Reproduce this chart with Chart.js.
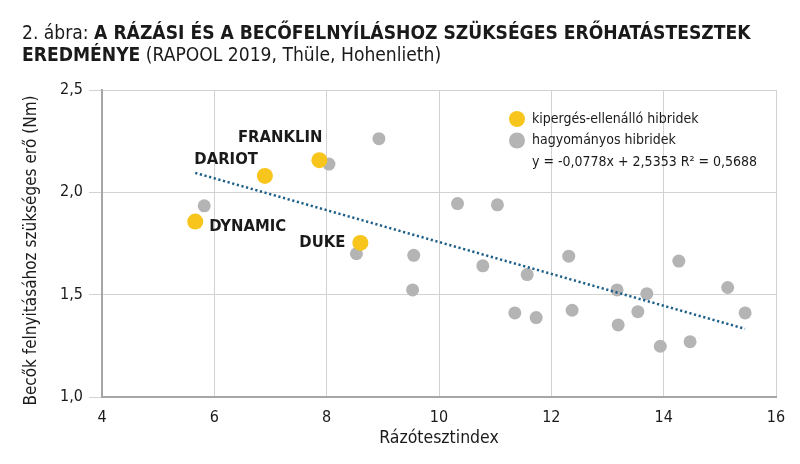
<!DOCTYPE html>
<html><head><meta charset="utf-8">
<script src="https://cdn.jsdelivr.net/npm/chart.js@4/dist/chart.umd.min.js"></script>
<style>
html,body{margin:0;padding:0;background:#fff;}
#wrap{position:relative;width:800px;height:464px;overflow:hidden;}
#title{position:absolute;left:22px;top:22px;font-family:'DejaVu Sans Condensed','DejaVu Sans',sans-serif;font-size:19.1px;line-height:22px;color:#1a1a1a;white-space:nowrap;}
#title b{font-weight:bold;}
canvas{position:absolute;left:0;top:0;}
</style></head><body>
<div id="wrap"><canvas id="c" width="800" height="464"></canvas>
<div id="title">2. ábra: <b>A RÁZÁSI ÉS A BECŐFELNYÍLÁSHOZ SZÜKSÉGES ERŐHATÁSTESZTEK</b><br><b>EREDMÉNYE</b> (RAPOOL 2019, Thüle, Hohenlieth)</div>
</div>
<script>
// ---- data ----
const resistantNames = ['DYNAMIC', 'DARIOT', 'FRANKLIN', 'DUKE'];
const resistantX = [5.66, 6.90, 7.87, 8.60];
const resistantY = [1.857, 2.08, 2.157, 1.753];

const conventionalX = [5.82, 8.04, 8.93, 8.53, 9.55, 9.53, 10.33, 11.04, 10.78, 11.57, 11.35, 11.73,
                       12.31, 12.37, 13.17, 13.19, 13.70, 13.54, 13.94, 14.27, 14.47, 15.14, 15.45];
const conventionalY = [1.934, 2.138, 2.262, 1.70, 1.692, 1.523, 1.945, 1.939, 1.641, 1.598, 1.411, 1.388,
                       1.688, 1.424, 1.523, 1.352, 1.505, 1.417, 1.248, 1.664, 1.27, 1.535, 1.411];

const trendX = [5.66, 15.45];
const trendY = [2.095, 1.333];

const xTicks = [4, 6, 8, 10, 12, 14, 16];
const yTicks = [1.0, 1.5, 2.0, 2.5];

const legendLabels = ['kipergés-ellenálló hibridek', 'hagyományos hibridek', 'y = -0,0778x + 2,5353 R² = 0,5688'];
const xTitle = 'Rázótesztindex';
const yTitle = 'Becők felnyitásához szükséges erő (Nm)';

// ---- style ----
const FONT = "'DejaVu Sans Condensed', 'DejaVu Sans', sans-serif";
const YELLOW = '#f8c51c';
const GREY = '#b4b4b4';
const TREND = '#1d5f88';
const TEXT = '#1a1a1a';

Chart.defaults.font.family = FONT;
Chart.defaults.color = TEXT;

const toPts = (xs, ys) => xs.map((x, i) => ({x: x, y: ys[i]}));

const overlay = {
  id: 'overlay',
  afterDatasetsDraw(chart) {
    const ctx = chart.ctx;
    const xs = chart.scales.x, ys = chart.scales.y;
    ctx.save();
    // y axis title
    ctx.save();
    ctx.translate(32, (chart.chartArea.top + chart.chartArea.bottom) / 2 + 7);
    ctx.rotate(-Math.PI / 2);
    ctx.font = "17px " + FONT;
    ctx.fillStyle = TEXT;
    ctx.textAlign = 'center';
    ctx.textBaseline = 'middle';
    ctx.fillText(yTitle, 0, 0);
    ctx.restore();
    // point labels
    ctx.font = "bold 16.5px " + FONT;
    ctx.fillStyle = TEXT;
    ctx.textBaseline = 'middle';
    const offs = [
      {dx: 14, dy: 5, align: 'left'},     // DYNAMIC
      {dx: -7, dy: -16, align: 'right'},  // DARIOT
      {dx: 3, dy: -22, align: 'right'},   // FRANKLIN
      {dx: -15, dy: 0, align: 'right'}    // DUKE
    ];
    resistantNames.forEach((n, i) => {
      const px = xs.getPixelForValue(resistantX[i]);
      const py = ys.getPixelForValue(resistantY[i]);
      ctx.textAlign = offs[i].align;
      ctx.fillText(n, px + offs[i].dx, py + offs[i].dy);
    });
    // legend
    const lx = 517, ly = 119, gap = 21.5;
    ctx.font = "14px " + FONT;
    ctx.textAlign = 'left';
    [YELLOW, GREY].forEach((c, i) => {
      ctx.beginPath();
      ctx.fillStyle = c;
      ctx.arc(lx, ly + i * gap, 8, 0, Math.PI * 2);
      ctx.fill();
    });
    ctx.fillStyle = TEXT;
    legendLabels.forEach((t, i) => ctx.fillText(t, lx + 15, ly + i * gap));
    ctx.restore();
  }
};

new Chart(document.getElementById('c'), {
  type: 'scatter',
  data: {
    datasets: [
      {
        label: 'trend', data: toPts(trendX, trendY), showLine: true, order: 0,
        borderColor: TREND, borderWidth: 2.5, borderDash: [2.2, 2.6], pointRadius: 0, fill: false
      },
      {
        label: legendLabels[0], data: toPts(resistantX, resistantY), order: 1,
        backgroundColor: YELLOW, borderWidth: 0, pointRadius: 8, pointHoverRadius: 8
      },
      {
        label: legendLabels[1], data: toPts(conventionalX, conventionalY), order: 2,
        backgroundColor: GREY, borderWidth: 0, pointRadius: 6.5, pointHoverRadius: 6.5
      }
    ]
  },
  options: {
    responsive: false,
    animation: false,
    layout: {padding: {left: 0, top: 90, right: 24, bottom: 0}},
    plugins: {legend: {display: false}, tooltip: {enabled: false}, title: {display: false}},
    scales: {
      x: {
        type: 'linear', min: 4, max: 16,
        afterBuildTicks: s => { s.ticks = xTicks.map(v => ({value: v})); },
        afterFit: s => { s.height = 67; },
        grid: {color: '#d2d2d2', lineWidth: 1, drawTicks: false},
        border: {color: '#a6a6a6', width: 2},
        ticks: {font: {size: 16}, color: TEXT, padding: 11},
        title: {display: true, text: xTitle, font: {size: 17.5}, color: TEXT, padding: {top: 2, bottom: 15.5}}
      },
      y: {
        type: 'linear', min: 1, max: 2.5,
        afterBuildTicks: s => { s.ticks = yTicks.map(v => ({value: v})); },
        afterFit: s => { s.width = 102; },
        grid: {color: '#d2d2d2', lineWidth: 1, drawTicks: true, tickLength: 13},
        border: {color: '#a6a6a6', width: 2},
        ticks: {font: {size: 16}, color: TEXT, padding: 6, callback: v => v.toFixed(1).replace('.', ',')},
        title: {display: false, text: yTitle}
      }
    }
  },
  plugins: [overlay]
});
</script>
</body></html>
